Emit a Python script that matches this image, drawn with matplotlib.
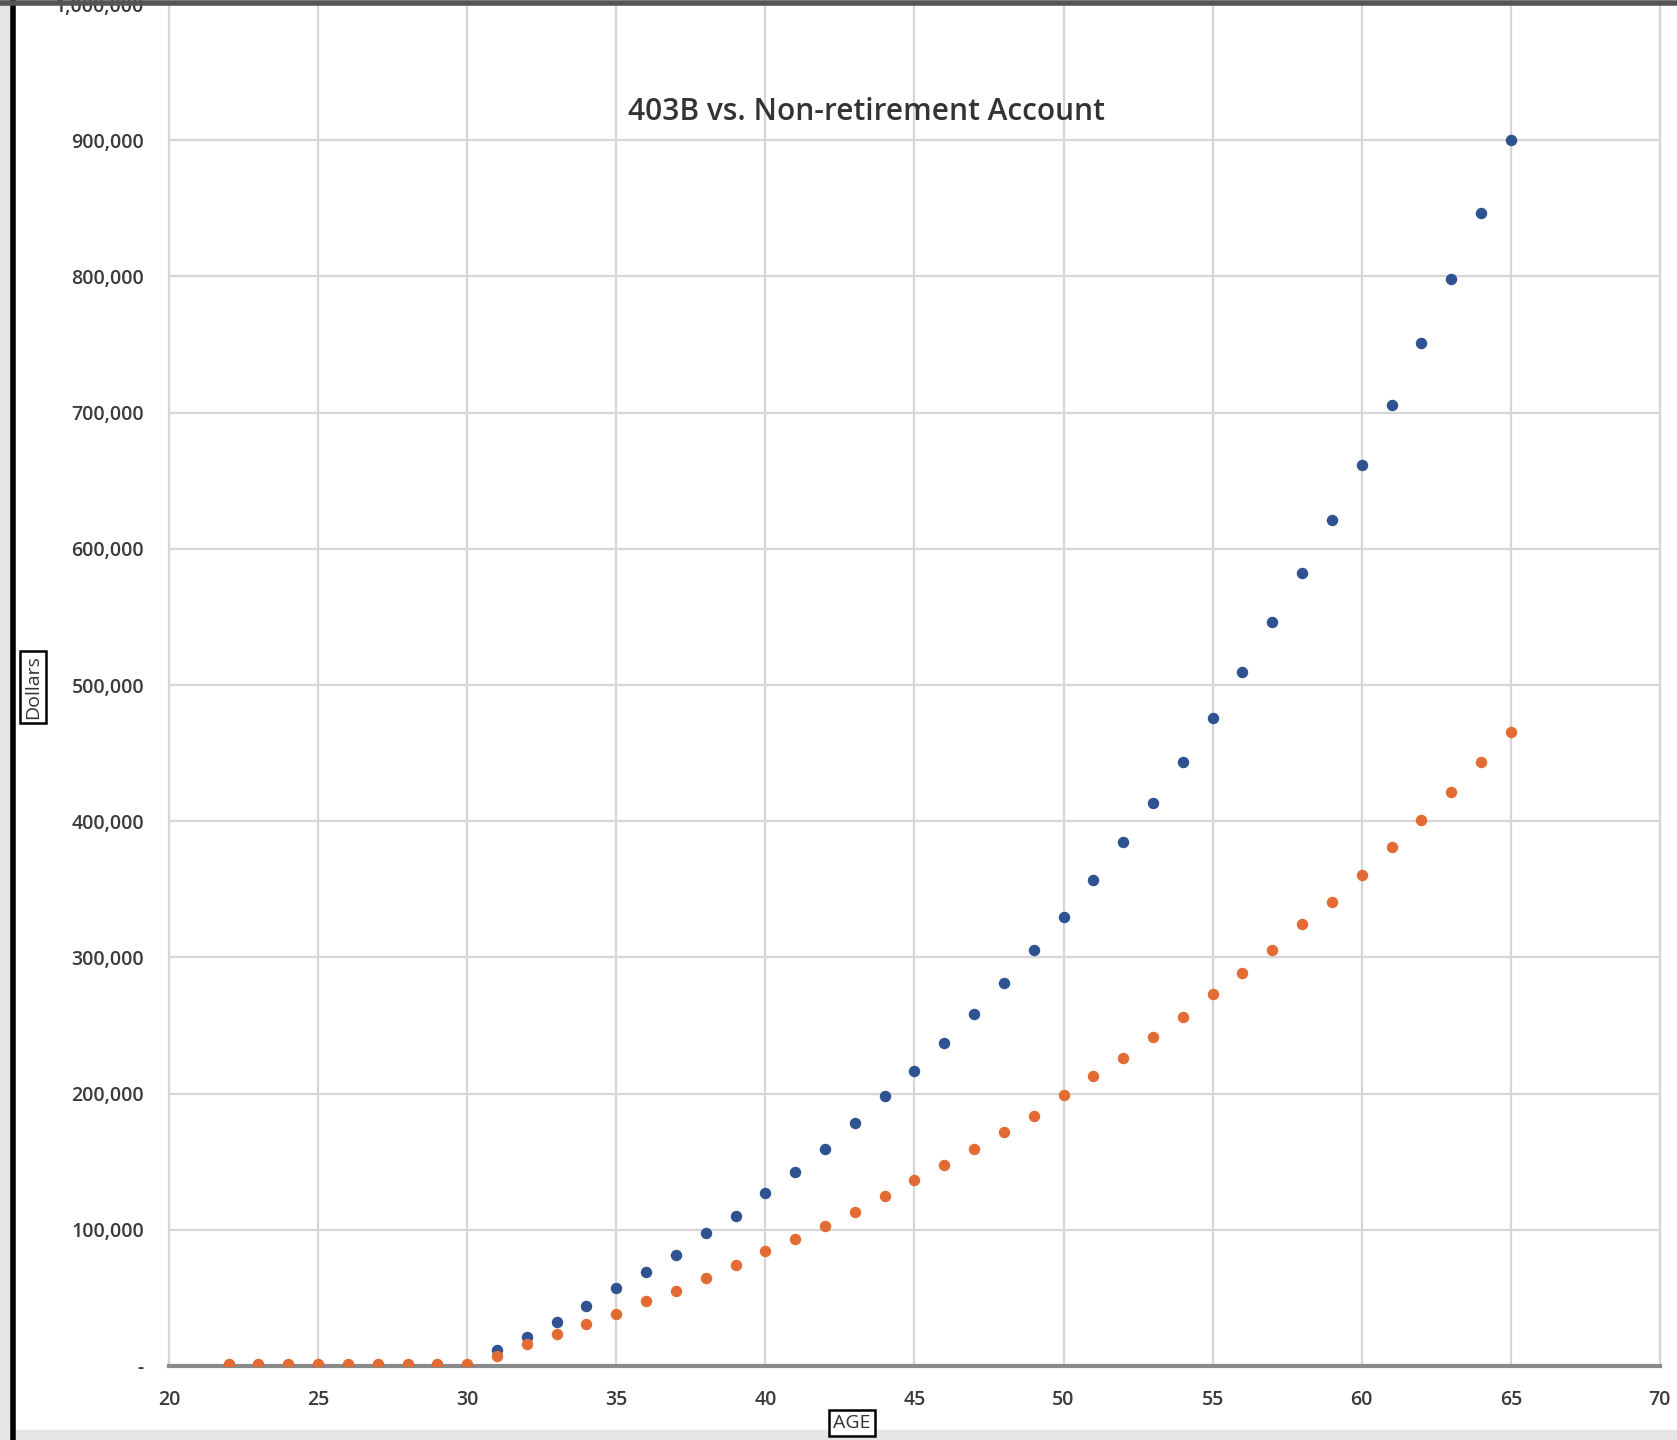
import numpy as np
import matplotlib.pyplot as plt
from matplotlib.lines import Line2D
from matplotlib.patches import Rectangle

# data
ages = list(range(22, 66))
b403 = [0, 0, 0, 0, 0, 0, 0, 0, 0,
        11800, 21200, 32200, 44000, 57300, 69100, 81700, 97400, 110000, 127300,
        142200, 159500, 178300, 198000, 216800, 237200, 258400, 281200, 305600, 329900,
        356600, 384900, 413200, 443800, 476000, 509800, 546000, 582100, 621400, 661400,
        705400, 751000, 798100, 846800, 900200]
nonret = [1500, 1500, 1500, 1500, 1500, 1500, 1500, 1500, 1500,
          7000, 16500, 23600, 30600, 38500, 47900, 55000, 64400, 73800, 84100,
          93500, 102900, 113100, 124900, 136700, 147700, 159500, 172000, 183800, 198700,
          212900, 226200, 241200, 256100, 273400, 288300, 305600, 324400, 340900, 360600,
          381000, 400600, 421100, 443800, 465800]

xticks = [20, 25, 30, 35, 40, 45, 50, 55, 60, 65, 70]
yticks = [0, 100000, 200000, 300000, 400000, 500000, 600000, 700000, 800000, 900000, 1000000]
ytick_labels = ["-", "100,000", "200,000", "300,000", "400,000", "500,000",
                "600,000", "700,000", "800,000", "900,000", "1,000,000"]

plt.rcParams['font.family'] = ['Open Sans', 'DejaVu Sans']

fig = plt.figure(figsize=(16.77, 14.4), dpi=100)
ax = fig.add_axes([0.1008, 0.0514, 0.889, 0.9458])

ax.scatter(ages, b403, s=68, color='#2f5290', zorder=3, linewidths=0)
ax.scatter(ages, nonret, s=68, color='#e36c35', zorder=4, linewidths=0)

ax.set_xlim(20, 70)
ax.set_ylim(0, 1000000)
ax.set_xticks(xticks)
ax.set_yticks(yticks)
ax.set_yticklabels(ytick_labels)
ax.tick_params(axis='both', length=0, labelsize=14, labelcolor='#3a3a3a')
for lab in ax.get_xticklabels() + ax.get_yticklabels():
    lab.set_fontweight('semibold')
ax.tick_params(axis='y', pad=18)
ax.tick_params(axis='x', pad=17)

ax.grid(True, color='#d6d6d6', linewidth=1.6)
ax.set_axisbelow(True)
for s in ['left', 'right', 'top']:
    ax.spines[s].set_color('#d6d6d6')
    ax.spines[s].set_linewidth(1.6)
ax.spines['bottom'].set_color('#8a8a8a')
ax.spines['bottom'].set_linewidth(3)

ax.text(0.468, 0.921, "403B vs. Non-retirement Account", transform=ax.transAxes,
        ha='center', va='center', fontsize=21.5, fontweight='semibold', color='#333333')

box = dict(boxstyle='square,pad=0.2', facecolor='white', edgecolor='black', linewidth=1.8)
fig.text(852 / 1677, 1 - 1423 / 1440, "AGE", ha='center', va='center',
         fontsize=14, color='#333333', bbox=box)
fig.text(33 / 1677, 1 - 687 / 1440, "Dollars", ha='center', va='center',
         rotation=90, fontsize=14, color='#333333', bbox=box)

# screenshot borders
fig.patches.append(Rectangle((0, 0), 10 / 1677, 1, transform=fig.transFigure,
                             color='#e6e6e6', zorder=-1))
fig.patches.append(Rectangle((0, 0), 1, 10 / 1440, transform=fig.transFigure,
                             color='#e6e6e6', zorder=-1))
fig.lines.append(Line2D([12.5 / 1677, 12.5 / 1677], [0, 1], transform=fig.transFigure,
                        color='black', linewidth=4))
fig.lines.append(Line2D([0, 1], [1 - 2.5 / 1440, 1 - 2.5 / 1440], transform=fig.transFigure,
                        color='#555555', linewidth=4))

fig.savefig('out.png', dpi=100)
